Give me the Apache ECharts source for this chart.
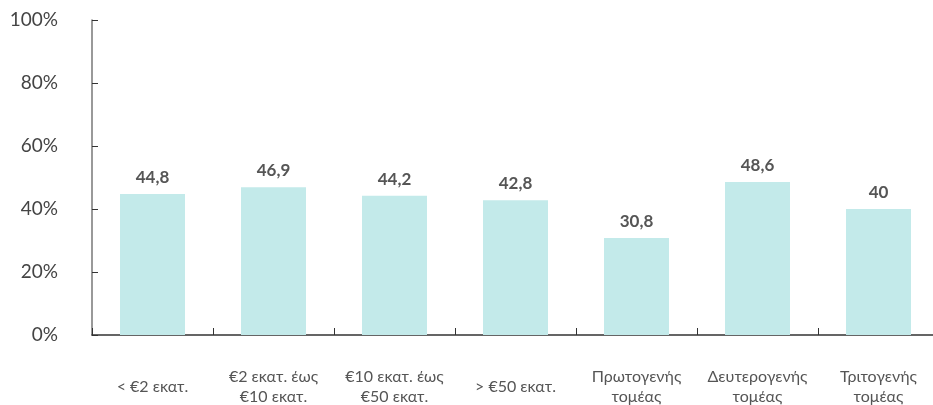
<!DOCTYPE html>
<html>
<head>
<meta charset="utf-8">
<script src="https://cdn.jsdelivr.net/npm/echarts@6/dist/echarts.min.js"></script>
<style>
  html, body { margin: 0; padding: 0; background: #fff; }
  #chart { width: 933px; height: 405px; }
</style>
</head>
<body>
<div id="chart"></div>
<script>
const categories = ['< €2 εκατ.', '€2 εκατ. έως\n€10 εκατ.', '€10 εκατ. έως\n€50 εκατ.', '> €50 εκατ.',
  'Πρωτογενής\nτομέας', 'Δευτερογενής\nτομέας', 'Τριτογενής\nτομέας'];
const values = [44.8, 46.9, 44.2, 42.8, 30.8, 48.6, 40];
const yTicks = [0, 20, 40, 60, 80, 100];

const chart = echarts.init(document.getElementById('chart'));
chart.setOption({
  animation: false,
  textStyle: { fontFamily: 'Lato, "Noto Sans", sans-serif' },
  grid: { left: 92, right: -6, top: 20, bottom: 70, containLabel: false, outerBoundsMode: 'none' },
  xAxis: {
    type: 'category',
    data: categories,
    axisLine: { lineStyle: { color: '#333', width: 1.5 } },
    axisTick: { show: true, inside: true, length: 7, lineStyle: { color: '#333' } },
    axisLabel: {
      color: '#555', fontSize: 16, margin: 52, lineHeight: 20,
      interval: 0, hideOverlap: false, verticalAlign: 'middle'
    }
  },
  yAxis: {
    type: 'value',
    min: yTicks[0],
    max: yTicks[yTicks.length - 1],
    interval: 20,
    splitLine: { show: false },
    axisLine: { show: true, lineStyle: { color: '#777', width: 1.5 } },
    axisTick: { show: true, inside: true, length: 6, lineStyle: { color: '#333' } },
    axisLabel: { color: '#444', fontSize: 19, margin: 34, formatter: '{value}%' }
  },
  series: [{
    type: 'bar',
    data: values,
    barWidth: 65,
    itemStyle: { color: '#c3eaea' },
    label: {
      show: true,
      position: 'top',
      distance: 8,
      color: '#555',
      fontSize: 17,
      fontWeight: 'bold',
      formatter: p => String(p.value).replace('.', ',')
    }
  }]
});
</script>
</body>
</html>
